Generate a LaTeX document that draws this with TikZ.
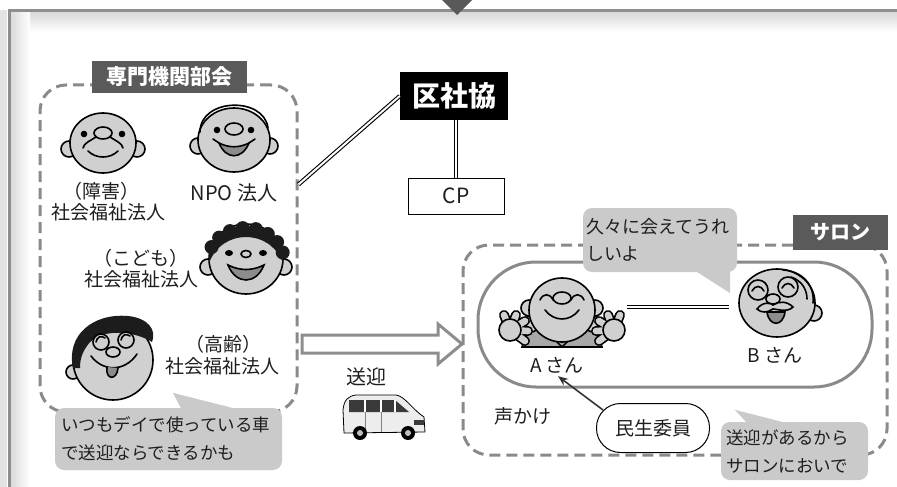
\documentclass[tikz,border=0pt]{standalone}
\usepackage{fontspec}
\setmainfont{Noto Sans CJK JP}
\usetikzlibrary{calc,arrows.meta}
\definecolor{framegray}{HTML}{8E8E8E}
\definecolor{dashgray}{HTML}{8A8A8A}
\definecolor{tagdark}{HTML}{5A5A5A}
\definecolor{skin}{HTML}{D0D0D0}
\definecolor{bubblegray}{HTML}{CACACA}
\definecolor{mouthgray}{HTML}{8C8C8C}
\definecolor{hairblack}{HTML}{1C1C1C}
\definecolor{bodygray}{HTML}{A8A8A8}
\definecolor{carbody}{HTML}{EDEDED}
\definecolor{carwin}{HTML}{3A3A3A}
\definecolor{ink}{HTML}{1E1E1E}
\begin{document}
\begin{tikzpicture}[x=1pt,y=-1pt,
  every node/.style={text=ink, inner sep=0pt},
  lab/.style={font=\fontsize{19}{23}\selectfont},
  tagbox/.style={fill=tagdark, text=white, font=\bfseries\fontsize{21}{24}\selectfont},
  grp/.style={draw=dashgray, line width=3pt, dash pattern=on 11pt off 6pt, rounded corners=26pt},
  dbl/.style={draw=black, double=white, double distance=2pt, line width=1.1pt},
  skinfill/.style={fill=skin, draw=black, line width=1.6pt},
  stroke/.style={draw=black, line width=1.6pt, line cap=round},
  bubble/.style={fill=bubblegray, rounded corners=9pt, align=left, font=\fontsize{17.5}{28}\selectfont},
  ghost/.style={circle, minimum size=70pt},
]
\useasboundingbox (0,0) rectangle (897,487);

% ---- outer frame with soft inner shadow ----
\fill[gray!22] (0,10) rectangle (7,487);
\shade[top color=gray!30, bottom color=white] (10,12) rectangle (897,32);
\shade[left color=gray!30, right color=white] (10,12) rectangle (30,487);
\draw[framegray, line width=3pt] (9,487) -- (9,11) -- (897,11);
\fill[gray!70!black] (442,0) -- (472,0) -- (457,15) -- cycle;

% ---- specialist group ----
\node[grp, minimum width=257pt, minimum height=327pt] (grpL) at (168.5,248.5) {};
\node[tagbox, minimum width=155pt, minimum height=32pt] (tagL) at (169.5,77) {専門機関部会};

% face 1
\begin{scope}[shift={(103,143)}]
  \draw[skinfill] (-34,6) circle (8);
  \draw[skinfill] (34,6) circle (8);
  \draw[skinfill] (0,0) ellipse (33 and 30);
  \fill (-19,-9) circle (3.3); \fill (19,-9) circle (3.3);
  \draw[stroke] (0,-10) ellipse (9 and 6);
  \draw[stroke] (-7,-6) .. controls (-13,-2) and (-19,0) .. (-20,5);
  \draw[stroke] (7,-6) .. controls (13,-2) and (19,0) .. (20,5);
  \draw[stroke] (-15,8) .. controls (-7,16) and (7,16) .. (15,8);
\end{scope}
\node[lab] (l1a) at (101,191) {（障害）};
\node[lab] (l1b) at (108,212) {社会福祉法人};

% face 2
\begin{scope}[shift={(234,140)}]
  \draw[skinfill] (-36,6) circle (8);
  \draw[skinfill] (36,6) circle (8);
  \draw[skinfill] (0,0) ellipse (36 and 32);
  \draw[stroke] (-34,-8) .. controls (-34,-42) and (30,-44) .. (34,-12);
  \fill (-17,-10) circle (3.3); \fill (17,-10) circle (3.3);
  \draw[stroke] (0,-11) ellipse (9 and 6);
  \draw[stroke, fill=mouthgray] (-15,3) .. controls (-8,20) and (8,20) .. (15,3) .. controls (5,8) and (-5,8) .. cycle;
  \draw[stroke] (-21,-1) -- (-15,3);
  \draw[stroke] (21,-1) -- (15,3);
\end{scope}
\node[lab, font=\fontsize{20}{24}\selectfont] (l2) at (234,193) {NPO 法人};

% face 3
\begin{scope}[shift={(246,259)}]
  \draw[skinfill] (-38,8) circle (8);
  \draw[skinfill] (38,8) circle (8);
  \draw[skinfill] (0,0) ellipse (37 and 35);
  \fill[hairblack] (-37,4) .. controls (-42,-45) and (42,-45) .. (37,4) .. controls (30,-14) and (15,-22) .. (0,-22) .. controls (-15,-22) and (-30,-14) .. cycle;
  \foreach \a in {15,35,...,165} \fill[hairblack] ({38*cos(\a)},{2-33*sin(\a)}) circle (7);
  \fill (-17,-6) ellipse (4 and 3); \fill (17,-6) ellipse (4 and 3);
  \draw[stroke] (0,-5) ellipse (5 and 3.5);
  \draw[stroke, fill=mouthgray] (-18,6) .. controls (-10,26) and (10,26) .. (18,6) .. controls (6,12) and (-6,12) .. cycle;
\end{scope}
\node[lab] (l3a) at (141,258) {（こども）};
\node[lab] (l3b) at (141,279) {社会福祉法人};

% face 4
\begin{scope}[shift={(113,360)}]
  \draw[skinfill] (-40,12) circle (7);
  \draw[skinfill] (0,0) ellipse (40 and 40);
  \fill[hairblack] (-40,8) .. controls (-47,-25) and (-20,-47) .. (15,-44) .. controls (35,-42) and (44,-30) .. (39,-18) .. controls (20,-30) and (-15,-32) .. (-26,-14) .. controls (-32,-6) and (-33,2) .. (-33,8) -- cycle;
  \draw[stroke, fill=skin] (-12,-18) circle (8);
  \draw[stroke, fill=skin] (13,-20) circle (8);
  \draw[stroke] (-8,-22) .. controls (-12,-25) and (-16,-23) .. (-17,-18);
  \draw[stroke] (17,-24) .. controls (13,-27) and (9,-25) .. (8,-20);
  \draw[stroke] (0,-8) ellipse (7 and 5);
  \draw[stroke] (-22,-4) .. controls (-10,12) and (12,12) .. (24,-6);
  \draw[stroke, fill=mouthgray] (-6,7) .. controls (-8,20) and (4,21) .. (5,8);
\end{scope}
\node[lab] (l4a) at (223,344) {（高齢）};
\node[lab] (l4b) at (222,366) {社会福祉法人};

% speech bubble of the group
\node[bubble, text width=215pt, inner xsep=6pt, minimum height=62pt] (bubL) at (168.5,439)
  {いつもデイで使っている車\\で送迎ならできるかも};
\fill[bubblegray] ($(bubL.north west)+(118,-15)$) -- ($(bubL.north west)+(127,2)$) -- ($(bubL.north west)+(185,2)$) -- cycle;

% ---- ward council and CP ----
\node[fill=black, text=white, font=\bfseries\fontsize{28}{30}\selectfont, minimum width=108pt, minimum height=48pt] (kusha) at (454,96) {区社協};
\node[draw=black, line width=0.8pt, fill=white, font=\fontsize{21}{24}\selectfont, minimum width=96pt, minimum height=36pt] (cp) at (456,196) {CP};
\draw[dbl] ($(grpL.north east)!0.306!(grpL.south east)$) -- (kusha.west);
\draw[dbl] (kusha.south -| cp.north) -- (cp.north);

% ---- transfer arrow and car ----
\coordinate (atail) at (302,344);
\coordinate (atip) at (462,344);
\draw[framegray, line width=3pt, fill=white] ($(atail)+(0,-9)$) -- ($(atip)+(-24,-9)$) -- ($(atip)+(-24,-20)$) -- (atip) -- ($(atip)+(-24,20)$) -- ($(atip)+(-24,9)$) -- ($(atail)+(0,9)$) -- cycle;
\node[lab, font=\fontsize{20}{24}\selectfont] (sogei) at (366,377) {送迎};
\begin{scope}[shift={(384,418)}]
  \draw[line width=0.8pt, fill=carbody] (-40,15) -- (-41,-8) .. controls (-40,-18) and (-36,-22) .. (-28,-23) -- (12,-23) .. controls (20,-22) and (28,-10) .. (36,-4) -- (40,-1) -- (41,14) -- cycle;
  \fill[carwin] (-35,-18) -- (11,-18) -- (25,-6) -- (-35,-6) -- cycle;
  \draw[white, line width=1.5pt] (-19,-18) -- (-19,-6) (-3,-18) -- (-3,-6) (11,-18) -- (11,-6);
  \draw[gray, line width=0.6pt] (-19,-6) -- (-19,14) (-3,-6) -- (-3,14);
  \fill[carwin] (30,2) rectangle (40,7);
  \fill[black] (-24,15) circle (7); \fill[gray!50] (-24,15) circle (3);
  \fill[black] (24,15) circle (7); \fill[gray!50] (24,15) circle (3);
\end{scope}

% ---- salon ----
\node[grp, minimum width=424pt, minimum height=210pt] (salon) at (675,350) {};
\node[draw=dashgray, line width=3pt, rounded corners=58pt, minimum width=394pt, minimum height=125pt] (ring) at (675,324.5) {};
\node[tagbox, font=\bfseries\fontsize{20}{24}\selectfont, minimum width=95pt, minimum height=35pt] (tagS) at (840.5,232.5) {サロン};

% person A
\node[ghost] (faceA) at (562,310) {};
\begin{scope}[shift={(faceA.center)}]
  \draw[stroke, fill=bodygray] (-34,20) -- (-40,37) -- (40,37) -- (34,20) -- cycle;
  \draw[stroke] (-9,28) -- (0,37) -- (9,28);
  \draw[stroke, fill=skin] (-33,-2) circle (8);
  \draw[stroke, fill=skin] (-31,14) circle (8);
  \draw[stroke, fill=skin] (33,-2) circle (8);
  \draw[stroke, fill=skin] (31,14) circle (8);
  \draw[skinfill] (0,0) ellipse (33 and 32);
  \draw[stroke] (-22,-10) .. controls (-19,-17) and (-12,-17) .. (-9,-10);
  \draw[stroke] (9,-10) .. controls (12,-17) and (19,-17) .. (22,-10);
  \draw[stroke] (0,-12) ellipse (9 and 6);
  \draw[stroke] (-17,0) .. controls (-8,12) and (8,12) .. (17,0);
  % open hands with spread fingers
  \foreach \s in {-1,1} {
    \foreach \dx/\dy in {-6/-15,-15/-9,-18/1,-15/11,6/-15}
      \draw[black, line width=10pt, line cap=round] ({\s*52},20) -- ++({\s*\dx},\dy);
    \foreach \dx/\dy in {-6/-15,-15/-9,-18/1,-15/11,6/-15}
      \draw[skin, line width=6.6pt, line cap=round] ({\s*52},20) -- ++({\s*\dx},\dy);
    \draw[skinfill] ({\s*52},20) ellipse (11 and 11);
  }
\end{scope}
\node[lab] (labA) at (557,365) {A さん};

% person B
\node[ghost] (faceB) at (777,303) {};
\begin{scope}[shift={(faceB.center)}]
  \draw[skinfill] (37,10) circle (8);
  \draw[skinfill] (0,0) ellipse (38 and 34);
  \draw[stroke] (6,-33) .. controls (25,-32) and (38,-18) .. (36,0);
  \draw[stroke] (14,-26) .. controls (26,-22) and (30,-12) .. (30,-4);
  \draw[stroke, fill=skin] (-19,-13) circle (10);
  \draw[stroke, fill=skin] (11,-16) circle (10);
  \draw[stroke] (-25,-12) .. controls (-22,-18) and (-16,-18) .. (-13,-12);
  \draw[stroke] (5,-15) .. controls (8,-21) and (14,-21) .. (17,-15);
  \draw[stroke, fill=skin] (-4,-4) ellipse (7 and 5);
  \draw[stroke, fill=skin] (-20,6) .. controls (-14,-2) and (-6,0) .. (-4,2) .. controls (2,-2) and (10,-2) .. (16,4) .. controls (10,10) and (0,6) .. (-4,6) .. controls (-10,10) and (-16,10) .. cycle;
  \draw[stroke, fill=mouthgray] (-10,9) .. controls (-8,24) and (6,24) .. (8,9) -- cycle;
\end{scope}
\node[lab] (labB) at (775,355) {B さん};
% friendship link, kept level
\coordinate (abL) at ($(faceA.center)+(65,-3)$);
\draw[dbl, shorten >=13pt] (abL) -- (abL -| faceB.west);

% speech bubble in the salon
\node[bubble, font=\fontsize{18}{27}\selectfont, text width=148pt, inner xsep=3pt, minimum height=64pt] (bubS) at (660,240)
  {久々に会えてうれ\\しいよ};
\fill[bubblegray] ($(bubS.south east)+(-43,-2)$) -- ($(bubS.south east)+(-7,-2)$) -- ($(bubS.south east)+(-7,21)$) -- cycle;

% district welfare commissioner
\node[draw=black, line width=1pt, fill=white, rounded corners=24pt, minimum width=113pt, minimum height=49pt, lab] (minsei) at (653,428) {民生委員};
\node[lab] (koe) at (523,416) {声かけ};
\draw[-{Stealth[length=10pt,width=8pt]}, line width=1.6pt, gray!40!black] ($(minsei.center)+(-50,-18)$) -- ($(labA.south)+(1,3)$);

% reply bubble
\node[bubble, text width=137pt, inner xsep=5pt, minimum height=58pt] (bubR) at (794.5,451)
  {送迎があるから\\サロンにおいで};
\fill[bubblegray] ($(bubR.north west)+(14,-12)$) -- ($(bubR.north west)+(27,2)$) -- ($(bubR.north west)+(69,2)$) -- cycle;

\end{tikzpicture}
\end{document}
